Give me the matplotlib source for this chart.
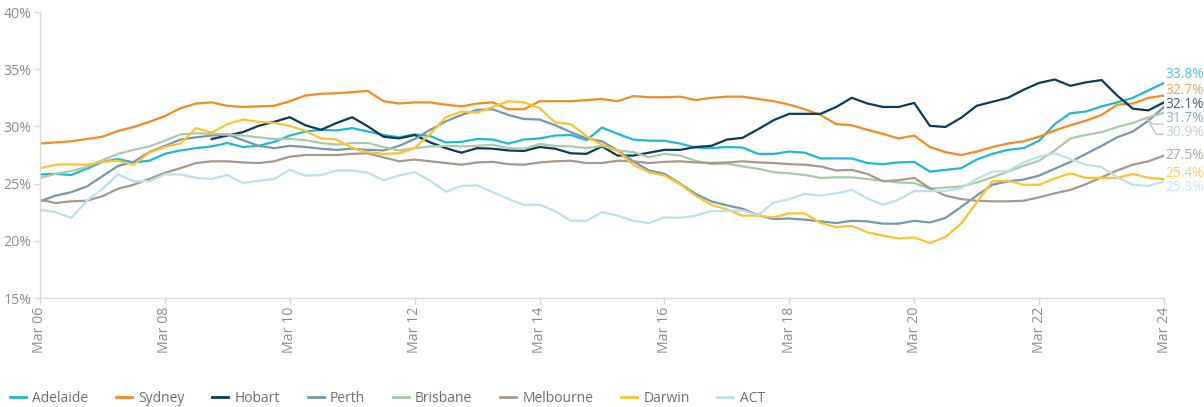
import numpy as np
import matplotlib
matplotlib.use("Agg")
import matplotlib.pyplot as plt
from matplotlib import transforms

plt.rcParams['font.family'] = ['Open Sans', 'DejaVu Sans']

# quarterly, Mar 06 .. Mar 24 (73 quarters)
tick_labels = ["Mar 06", "Mar 08", "Mar 10", "Mar 12", "Mar 14",
               "Mar 16", "Mar 18", "Mar 20", "Mar 22", "Mar 24"]

adelaide = [25.8, 25.85, 25.75, 26.3, 26.9, 27.15, 26.85, 27.0, 27.6, 27.9, 28.1, 28.25, 28.55,
            28.2, 28.3, 28.65, 29.2, 29.55, 29.7, 29.65, 29.85, 29.55, 29.25, 29.05,
            29.3, 29.15, 28.6, 28.65, 28.9, 28.85, 28.5, 28.85, 28.95, 29.2, 29.25, 28.8, 29.9,
            29.35, 28.85, 28.75, 28.75, 28.5, 28.15, 28.1, 28.2, 28.15, 27.6, 27.6, 27.8,
            27.7, 27.2, 27.2, 27.2, 26.8, 26.7, 26.85, 26.9, 26.05, 26.2, 26.35, 27.1, 27.6,
            27.95, 28.1, 28.75, 30.2, 31.15, 31.3, 31.75, 32.1, 32.5, 33.15, 33.8]
sydney = [28.5, 28.6, 28.7, 28.9, 29.1, 29.6, 29.95, 30.4, 30.9, 31.6, 32.0, 32.1, 31.8,
          31.7, 31.75, 31.8, 32.2, 32.7, 32.85, 32.9, 33.0, 33.1, 32.2, 32.0, 32.1,
          32.1, 31.9, 31.75, 32.0, 32.1, 31.5, 31.5, 32.2, 32.2, 32.2, 32.3, 32.4,
          32.2, 32.65, 32.55, 32.55, 32.6, 32.3, 32.5, 32.6, 32.6, 32.4, 32.2, 31.9,
          31.5, 31.0, 30.2, 30.1, 29.7, 29.35, 28.95, 29.2, 28.2, 27.75, 27.5, 27.8,
          28.2, 28.5, 28.7, 29.1, 29.65, 30.1, 30.5, 31.0, 31.9, 32.0, 32.5, 32.7]
hobart = [np.nan] * 11 + [
          28.9, 29.2, 29.5, 30.05, 30.4, 30.8, 30.1, 29.7, 30.3, 30.8, 30.0, 29.1, 28.95,
          29.25, 28.6, 28.1, 27.7, 28.1, 28.05, 27.9, 27.85, 28.2, 28.05, 27.65, 27.6, 28.25,
          27.45, 27.45, 27.7, 27.95, 27.95, 28.2, 28.3, 28.85, 29.0, 29.75, 30.55, 31.1,
          31.1, 31.1, 31.7, 32.5, 32.0, 31.7, 31.7, 32.05, 30.05, 29.95, 30.75, 31.8,
          32.15, 32.5, 33.2, 33.8, 34.1, 33.55, 33.85, 34.05, 32.7, 31.55, 31.4, 32.1]
perth = [23.45, 23.95, 24.25, 24.75, 25.65, 26.55, 26.9, 27.75, 28.3, 28.85, 29.05, 29.2, 29.3,
         28.8, 28.3, 28.1, 28.3, 28.2, 28.05, 27.95, 28.05, 27.95, 27.9, 28.3,
         28.9, 29.7, 30.45, 31.0, 31.45, 31.5, 31.0, 30.65, 30.6, 30.1, 29.5, 28.95, 28.7,
         27.9, 26.95, 26.15, 25.85, 25.0, 24.1, 23.45, 23.1, 22.8, 22.25, 21.9, 21.95,
         21.85, 21.7, 21.55, 21.75, 21.7, 21.5, 21.5, 21.75, 21.6, 22.0, 22.95, 23.95,
         24.9, 25.2, 25.35, 25.7, 26.3, 26.9, 27.6, 28.3, 29.05, 29.55, 30.5, 31.7]
brisbane = [25.5, 25.85, 26.1, 26.45, 27.05, 27.6, 27.95, 28.25, 28.75, 29.3, 29.4, 29.35, 29.3,
            29.2, 29.05, 28.9, 28.9, 28.8, 28.55, 28.4, 28.55, 28.55, 28.2, 27.9,
            28.1, 28.25, 28.3, 28.25, 28.3, 28.4, 28.1, 28.05, 28.45, 28.3, 28.25, 28.1, 28.3,
            27.9, 27.75, 27.3, 27.6, 27.45, 27.0, 26.7, 26.75, 26.5, 26.3, 26.0, 25.9,
            25.75, 25.5, 25.55, 25.55, 25.4, 25.25, 25.1, 25.05, 24.55, 24.65, 24.75, 25.1,
            25.55, 26.05, 26.55, 27.0, 27.9, 28.95, 29.25, 29.5, 29.95, 30.3, 30.8, 31.2]
melbourne = [23.6, 23.3, 23.45, 23.5, 23.9, 24.55, 24.9, 25.4, 25.95, 26.35, 26.8, 26.95, 26.95,
             26.85, 26.8, 26.95, 27.35, 27.5, 27.5, 27.5, 27.6, 27.65, 27.3, 26.95,
             27.1, 26.95, 26.8, 26.65, 26.85, 26.9, 26.7, 26.65, 26.85, 26.95, 27.0, 26.8, 26.8,
             27.0, 26.95, 26.8, 26.9, 26.95, 26.85, 26.8, 26.85, 26.95, 26.85, 26.8, 26.7,
             26.65, 26.5, 26.15, 26.2, 25.85, 25.2, 25.3, 25.5, 24.6, 23.95, 23.65, 23.5,
             23.45, 23.45, 23.5, 23.8, 24.15, 24.45, 24.95, 25.55, 26.15, 26.65, 26.95, 27.45]
darwin = [26.35, 26.65, 26.7, 26.65, 26.9, 27.0, 26.65, 27.7, 28.2, 28.5, 29.85, 29.45, 30.2,
          30.6, 30.4, 30.3, 30.05, 29.6, 28.95, 28.85, 28.1, 27.75, 27.6, 27.65,
          28.1, 29.35, 30.8, 31.3, 31.2, 31.7, 32.2, 32.1, 31.6, 30.35, 30.2, 29.15, 28.4,
          27.85, 26.65, 26.0, 25.7, 24.95, 23.95, 23.15, 22.75, 22.2, 22.2, 22.05, 22.4,
          22.4, 21.55, 21.2, 21.3, 20.75, 20.45, 20.2, 20.3, 19.8, 20.35, 21.5, 23.35,
          25.2, 25.25, 24.9, 24.9, 25.45, 25.9, 25.5, 25.5, 25.5, 25.85, 25.5, 25.4]
act = [22.7, 22.5, 22.0, 23.5, 24.55, 25.8, 25.2, 25.2, 25.8, 25.8, 25.5, 25.4, 25.75,
       25.05, 25.25, 25.4, 26.2, 25.7, 25.75, 26.15, 26.15, 25.95, 25.3, 25.7,
       26.0, 25.25, 24.3, 24.8, 24.85, 24.25, 23.65, 23.15, 23.15, 22.6, 21.75, 21.75, 22.5,
       22.2, 21.75, 21.55, 22.05, 22.0, 22.2, 22.6, 22.6, 22.65, 22.25, 23.35, 23.65,
       24.1, 23.95, 24.15, 24.45, 23.7, 23.15, 23.6, 24.35, 24.35, 24.35, 24.6, 25.4,
       26.05, 26.1, 26.85, 27.35, 27.65, 27.15, 26.65, 26.45, 25.55, 24.9, 24.8, 25.2]

names = ["Adelaide", "Sydney", "Hobart", "Perth", "Brisbane", "Melbourne", "Darwin", "ACT"]
series = [adelaide, sydney, hobart, perth, brisbane, melbourne, darwin, act]
colors = ["#1DB9D3", "#F58A1F", "#0C3A59", "#7796B0", "#A9C9AA", "#A8998D", "#FEC231", "#BDE0EC"]

end_labels = ["33.8%", "32.7%", "32.1%", "31.7%", "30.9%", "27.5%", "25.4%", "25.3%"]
label_y = [34.55, 33.15, 31.95, 30.65, 29.5, 27.45, 25.85, 24.7]
label_colors = ["#4CC9DD", "#F7A25A", "#3D6078", "#93AEC4", "#C2D6C3", "#B3A79D", "#FDCB58", "#C9E5EF"]

fig = plt.figure(figsize=(12.04, 4.07), dpi=100)
ax = fig.add_axes([0.0332, 0.2678, 0.9336, 0.7027])

x = np.arange(len(adelaide))
for name, vals, c in zip(names, series, colors):
    ax.plot(x, np.array(vals, dtype=float), color=c, lw=1.6, label=name,
            solid_joinstyle='miter')

ax.set_xlim(0, 72)
ax.set_ylim(15, 40)
ax.set_xticks(np.arange(0, 73, 8))
ax.set_xticklabels(tick_labels, rotation=90)
ax.set_yticks(np.arange(15, 41, 5))
ax.set_yticklabels([f"{v}%" for v in range(15, 41, 5)])

for side in ["top", "right"]:
    ax.spines[side].set_visible(False)
for side in ["left", "bottom"]:
    ax.spines[side].set_color("#D9D9D9")
    ax.spines[side].set_linewidth(1)
ax.tick_params(axis="both", colors="#D9D9D9", labelcolor="#8C8C8C", labelsize=10.2,
               length=4, width=1, pad=2)

# end labels
trans = transforms.offset_copy(ax.transData, fig=fig, x=1, y=0, units="points")
for lab, ly, lc in zip(end_labels, label_y, label_colors):
    ax.text(72, ly, lab, color=lc, fontsize=9.9, va="center", ha="left",
            transform=trans, clip_on=False)

# leader lines for Perth and Brisbane
ax.plot([70.9, 71.3, 71.95], [30.65, 30.2, 30.2], color="#BFBFBF", lw=0.9, clip_on=False)
ax.plot([71.0, 71.5, 71.95], [30.5, 29.3, 29.3], color="#BFBFBF", lw=0.9, clip_on=False)

fig.legend(loc="lower left", bbox_to_anchor=(0.0, -0.022), ncol=8, frameon=False,
           fontsize=10, labelcolor="#6E6E6E", handlelength=1.15, handletextpad=0.45,
           columnspacing=2.0, borderaxespad=0.3)
for line in fig.legends[0].get_lines():
    line.set_linewidth(2)

fig.savefig("out.png", dpi=100)
